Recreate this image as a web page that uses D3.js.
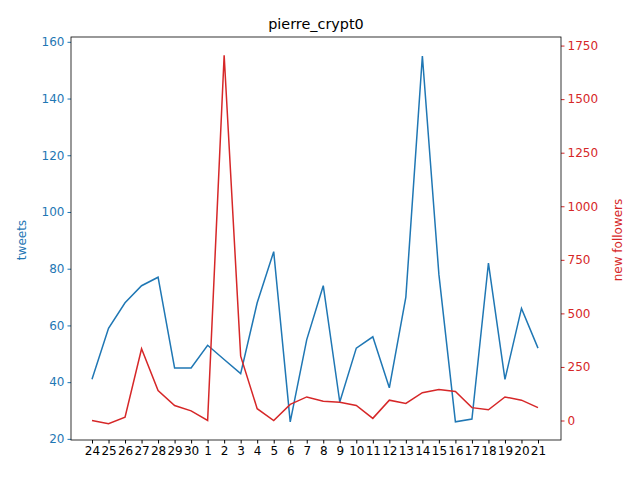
<!DOCTYPE html>
<html><head><meta charset="utf-8">
<script src="https://cdn.jsdelivr.net/npm/d3@7"></script>
<style>body{margin:0;background:#fff}text{font-family:"DejaVu Sans",sans-serif}</style>
</head><body><svg id="c" width="640" height="480"></svg>
<script>
const categories=["24","25","26","27","28","29","30","1","2","3","4","5","6","7","8","9","10","11","12","13","14","15","16","17","18","19","20","21"];
const tweets=[41,59,68,74,77,45,45,53,48,43,68,86,26,55,74,33,52,56,38,70,155,78,26,27,82,41,66,52];
const followers=[0,-15,15,335,140,70,45,0,1705,300,55,0,75,110,90,85,70,10,95,80,130,145,135,60,50,110,95,60];
const svg=d3.select("#c");
const L=71,R=561,T=37,B=440;
const x=d3.scalePoint().domain(categories).range([92,538]).padding(0);
const yl=d3.scaleLinear().domain([19.6,161.7]).range([B,T]);
const yr=d3.scaleLinear().domain([-91,1790]).range([B,T]);
const blue="#1f77b4",red="#d62728";
const ax=svg.append("g").attr("transform",`translate(0,${B})`).call(d3.axisBottom(x).tickSizeOuter(0).tickSize(3.5));
ax.selectAll("text").attr("font-size",12).attr("fill","#000");
const al=svg.append("g").attr("transform",`translate(${L},0)`).call(d3.axisLeft(yl).tickValues([20,40,60,80,100,120,140,160]).tickSize(3.5));
al.selectAll("text").attr("font-size",12).attr("fill",blue);al.selectAll("line").attr("stroke",blue);
const ar=svg.append("g").attr("transform",`translate(${R},0)`).call(d3.axisRight(yr).tickValues([0,250,500,750,1000,1250,1500,1750]).tickFormat(d3.format("d")).tickSize(3.5));
ar.selectAll("text").attr("font-size",12).attr("fill",red);ar.selectAll("line").attr("stroke",red);
[al,ar,ax].forEach(g=>g.select(".domain").remove());
svg.append("rect").attr("x",L).attr("y",T).attr("width",R-L).attr("height",B-T).attr("fill","none").attr("stroke","#000").attr("stroke-width",0.8);
svg.append("path").datum(tweets).attr("fill","none").attr("stroke",blue).attr("stroke-width",1.5)
 .attr("d",d3.line().x((d,i)=>x(categories[i])).y(d=>yl(d)));
svg.append("path").datum(followers).attr("fill","none").attr("stroke",red).attr("stroke-width",1.5)
 .attr("d",d3.line().x((d,i)=>x(categories[i])).y(d=>yr(d)));
svg.append("text").attr("x",316).attr("y",29).attr("text-anchor","middle").attr("font-size",14.4).text("pierre_crypt0");
svg.append("text").attr("transform","translate(26,240) rotate(-90)").attr("text-anchor","middle").attr("font-size",12).attr("fill",blue).text("tweets");
svg.append("text").attr("transform","translate(622,240) rotate(-90)").attr("text-anchor","middle").attr("font-size",12).attr("fill",red).text("new followers");
</script></body></html>
